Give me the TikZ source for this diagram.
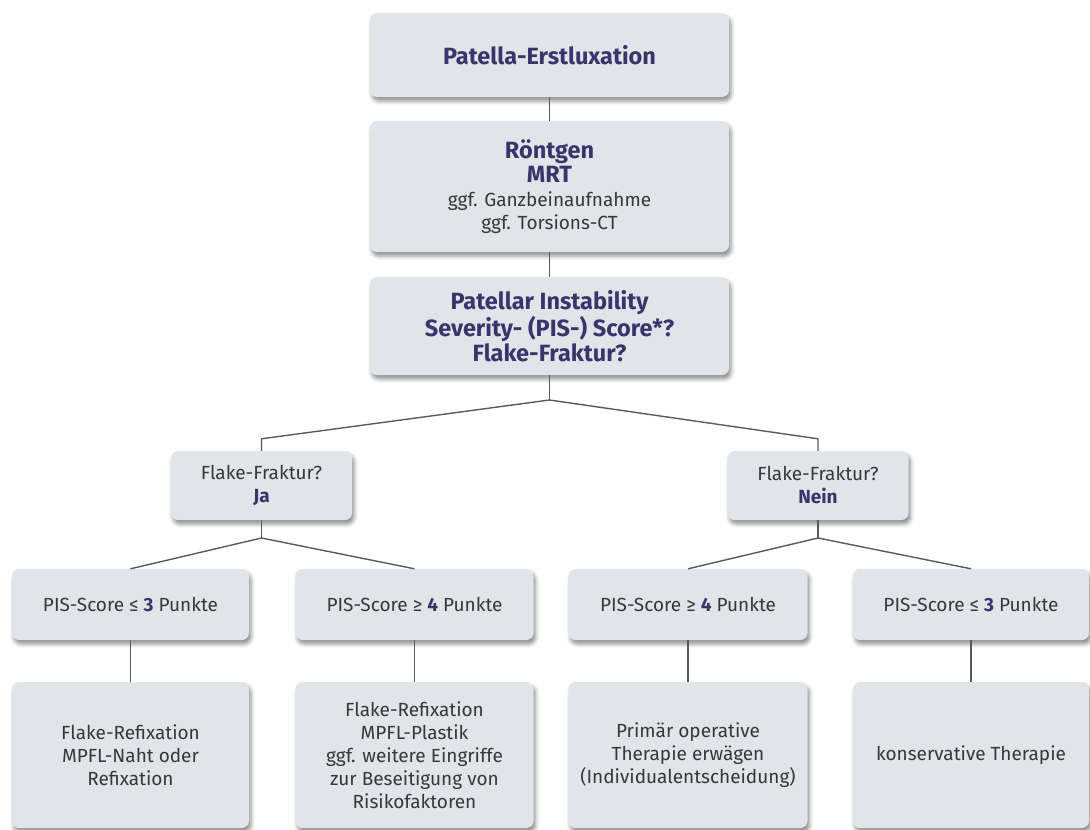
\documentclass[tikz,border=0pt]{standalone}
\usepackage{fontspec}
\setmainfont{Fira Sans}
\usetikzlibrary{shadows.blur}
\definecolor{boxfill}{RGB}{225,228,232}
\definecolor{headc}{RGB}{58,52,108}
\definecolor{txtc}{RGB}{55,55,58}
\definecolor{linec}{RGB}{90,90,93}
\newcommand{\hd}[1]{{\bfseries\color{headc}#1}}
\newcommand{\hdb}[1]{{\fontsize{23.5}{25}\selectfont\bfseries\color{headc}#1}}
\tikzset{
  box/.style={rectangle, rounded corners=7pt, fill=boxfill, align=center,
    inner sep=0pt, text=txtc,
    blur shadow={shadow xshift=2pt, shadow yshift=-4pt, shadow blur radius=4pt, shadow opacity=45}},
  big/.style={font=\fontsize{23.5}{25}\selectfont},
  norm/.style={font=\fontsize{19}{23}\selectfont},
  conn/.style={draw=linec, line width=1.4pt}
}
\begin{document}
\begin{tikzpicture}[x=1pt,y=-1pt]
\useasboundingbox (0,0) rectangle (1090,830);
% top column
\node[box, big, minimum width=359pt, minimum height=84pt] (b1) at (549.5,55) {\hd{Patella-Erstluxation}};
\node[box, norm, minimum width=359pt, minimum height=131pt] (b2) at (549.5,186.5)
  {\hdb{Röntgen}\\[1pt]\hdb{MRT}\\[1pt]ggf. Ganzbeinaufnahme\\ggf. Torsions-CT};
\node[box, big, minimum width=359pt, minimum height=98pt] (b3) at (549.5,326)
  {\hd{Patellar Instability}\\\hd{Severity- (PIS-) Score*?}\\\hd{Flake-Fraktur?}};
% decision boxes
\node[box, norm, minimum width=181pt, minimum height=69pt] (ja) at (261.5,485.5)
  {Flake-Fraktur?\\\hd{Ja}};
\node[box, norm, minimum width=181pt, minimum height=69pt] (nein) at (818,485.5)
  {Flake-Fraktur?\\\hd{Nein}};
% score boxes
\node[box, norm, minimum width=237pt, minimum height=71pt] (s1) at (130.5,604.5)
  {PIS-Score ≤ \hd{3} Punkte};
\node[box, norm, minimum width=238pt, minimum height=71pt] (s2) at (414.5,604.5)
  {PIS-Score ≥ \hd{4} Punkte};
\node[box, norm, minimum width=239pt, minimum height=71pt] (s3) at (688,604.5)
  {PIS-Score ≥ \hd{4} Punkte};
\node[box, norm, minimum width=236pt, minimum height=71pt] (s4) at (971,604.5)
  {PIS-Score ≤ \hd{3} Punkte};
% result boxes
\node[box, norm, minimum width=237pt, minimum height=146pt] (r1) at (130.5,755)
  {Flake-Refixation\\MPFL-Naht oder\\Refixation};
\node[box, norm, minimum width=238pt, minimum height=146pt] (r2) at (414.5,755)
  {Flake-Refixation\\MPFL-Plastik\\ggf. weitere Eingriffe\\zur Beseitigung von\\Risikofaktoren};
\node[box, norm, minimum width=239pt, minimum height=146pt] (r3) at (688,755)
  {Primär operative\\Therapie erwägen\\(Individualentscheidung)};
\node[box, norm, minimum width=236pt, minimum height=146pt] (r4) at (971,755)
  {konservative Therapie};
% junctions
\coordinate (j0) at (549.5,400);
\coordinate (jj) at (261.5,538);
\coordinate (jn) at (818,538);
% connectors
\draw[conn] (b1.south) -- (b2.north);
\draw[conn] (b2.south) -- (b3.north);
\draw[conn] (b3.south) -- (j0);
\draw[conn] (j0) -- ([yshift=12pt]ja.north) -- (ja.north);
\draw[conn] (j0) -- ([yshift=12pt]nein.north) -- (nein.north);
\draw[conn] (ja.south) -- (jj);
\draw[conn] (jj) -- (s1.north);
\draw[conn] (jj) -- (s2.north);
\draw[conn] (nein.south) -- (jn);
\draw[conn] (jn) -- (s3.north);
\draw[conn] (jn) -- (s4.north);
\draw[conn] (s1.south) -- (r1.north);
\draw[conn] (s2.south) -- (r2.north);
\draw[conn] (s3.south) -- (r3.north);
\draw[conn] (s4.south) -- (r4.north);
\end{tikzpicture}
\end{document}
